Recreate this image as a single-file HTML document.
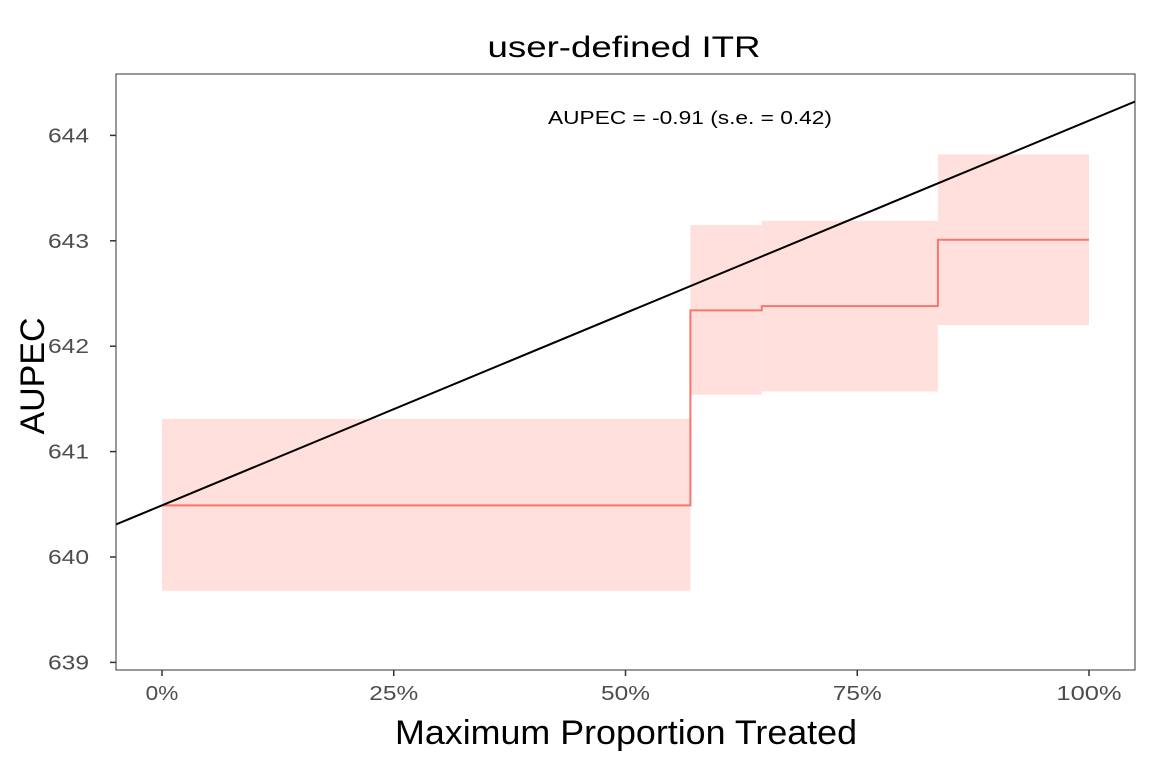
<!DOCTYPE html>
<html><head><meta charset="utf-8"><style>
html,body{margin:0;padding:0;background:#fff;}
svg{display:block;font-family:"Liberation Sans",Arial,sans-serif;}
</style></head><body>
<svg id="chart" width="1152" height="768"></svg>
<script>
const xBreaks = [0, 0.570, 0.647, 0.837, 1.0];
const stepValues = [640.49, 642.34, 642.38, 643.01];
const lowerValues = [639.68, 641.54, 641.57, 642.20];
const upperValues = [641.31, 643.15, 643.19, 643.82];
const lineStart = 640.49;
const lineEnd = 644.14;
const yTicks = [639, 640, 641, 642, 643, 644];
const xTicks = [0, 0.25, 0.5, 0.75, 1.0];
const xTickLabels = ["0%", "25%", "50%", "75%", "100%"];

const NS = "http://www.w3.org/2000/svg";
const svg = document.getElementById("chart");
const P = {l:116, r:1135, t:74, b:670};
const X = v => 162 + v * 927;
const Y = v => 557 - (v - 640) * 105.4;
function el(tag, attrs, parent){ const e = document.createElementNS(NS, tag); for (const k in attrs) e.setAttribute(k, attrs[k]); (parent||svg).appendChild(e); return e; }

const clip = el("clipPath", {id:"clip"});
el("rect", {x:P.l, y:P.t, width:P.r-P.l, height:P.b-P.t}, clip);
const g = el("g", {"clip-path":"url(#clip)"});



for (let i = 0; i < stepValues.length; i++) {
  const r = el("rect", {x:X(xBreaks[i]), y:Y(upperValues[i]), width:X(xBreaks[i+1])-X(xBreaks[i]), height:Y(lowerValues[i])-Y(upperValues[i]), fill:"#ffe0dc"}, g);
  
  
}
let d = "";
for (let i = 0; i < stepValues.length; i++) {
  d += (i === 0 ? "M" : "L") + X(xBreaks[i]) + "," + Y(stepValues[i]) + " L" + X(xBreaks[i+1]) + "," + Y(stepValues[i]) + " ";
}
const step = el("path", {d:d, fill:"none", stroke:"#f8766d", "stroke-width":2}, g);



const slope = lineEnd - lineStart;
const x0 = -0.1, x1 = 1.1;
const diag = el("line", {x1:X(x0), y1:Y(lineStart+slope*x0), x2:X(x1), y2:Y(lineStart+slope*x1), stroke:"#000", "stroke-width":2}, g);



const frame = el("rect", {x:P.l, y:P.t, width:P.r-P.l, height:P.b-P.t, fill:"none", stroke:"#333", "stroke-width":1});



yTicks.forEach(v => {
  const t = el("line", {x1:P.l-6, x2:P.l, y1:Y(v), y2:Y(v), stroke:"#333", "stroke-width":1.5});
  
  
  const tx = el("text", {x:89, y:Y(v)+7, "text-anchor":"end", "font-size":20, fill:"#4d4d4d", textLength:41, lengthAdjust:"spacingAndGlyphs"});
  tx.textContent = v;
  
  
});
xTicks.forEach((v, i) => {
  const t = el("line", {x1:X(v), x2:X(v), y1:P.b, y2:P.b+6, stroke:"#333", "stroke-width":1.5});
  
  
  const tx = el("text", {x:X(v), y:P.b+30, "text-anchor":"middle", "font-size":20, fill:"#4d4d4d", textLength:xTickLabels[i].length*16.3, lengthAdjust:"spacingAndGlyphs"});
  tx.textContent = xTickLabels[i];
  
  
});

const title = el("text", {x:624, y:57, "text-anchor":"middle", "font-size":30, fill:"#000", textLength:273, lengthAdjust:"spacingAndGlyphs"});
title.textContent = "user-defined ITR";



const xt = el("text", {x:626, y:744, "text-anchor":"middle", "font-size":34, fill:"#000", textLength:462, lengthAdjust:"spacingAndGlyphs"});
xt.textContent = "Maximum Proportion Treated";



const yt = el("text", {x:44, y:376, "text-anchor":"middle", "font-size":34, fill:"#000", transform:"rotate(-90 44 376)", textLength:117, lengthAdjust:"spacingAndGlyphs"});
yt.textContent = "AUPEC";



const ann = el("text", {x:690, y:124, "text-anchor":"middle", "font-size":18, fill:"#000", textLength:284, lengthAdjust:"spacingAndGlyphs"});
ann.textContent = "AUPEC = -0.91 (s.e. = 0.42)";


</script>
</body></html>
